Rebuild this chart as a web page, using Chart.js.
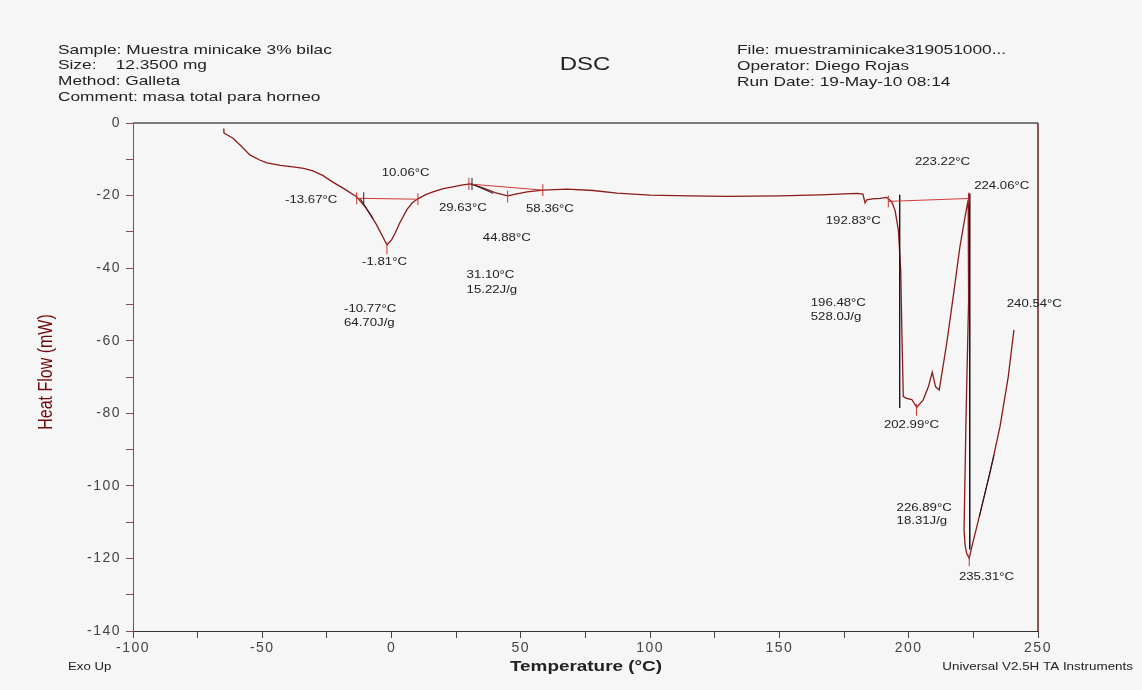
<!DOCTYPE html>
<html>
<head>
<meta charset="utf-8">
<title>DSC</title>
<script src="https://cdn.jsdelivr.net/npm/chart.js@4.4.1/dist/chart.umd.min.js"></script>
<style>
    body { margin: 0; background: #f6f6f6; }
    canvas { display: block; }
</style>
</head>
<body>
<canvas id="dscChart" width="1142" height="690"></canvas>
<script>
// DSC trace (temperature in °C, heat flow in mW)
const temps = [
    -64.9, -64.8, -64.0, -61.3, -58.0, -54.8, -51.0, -48.2, -43.0, -38.1,
    -34.0, -30.4, -26.5, -22.7, -18.0, -13.4, -10.0, -6.0, -3.5, -1.8,
    0.0, 1.5, 3.2, 6.0, 8.0, 10.2, 13.0, 16.0, 20.0, 23.7,
    27.0, 30.3, 33.0, 35.3, 40.0, 44.9, 48.0, 52.4, 58.5, 67.8,
    78.0, 87.2, 100.0, 115.0, 130.0, 150.0, 165.7, 180.0, 182.3, 183.1,
    183.8, 186.0, 188.9, 191.5, 193.4, 194.7, 196.0, 196.9, 197.4, 197.9,
    199.2, 201.2, 203.1, 205.6, 207.6, 209.1, 210.4, 211.8, 214.7, 217.2,
    219.8, 221.8, 223.0, 223.3, 223.2, 223.0, 222.2, 221.4, 221.8, 222.4,
    223.4, 224.4, 227.6, 231.4, 235.3, 238.5, 240.7,
];
const heatFlow = [
    -1.5, -2.8, -3.1, -4.2, -6.5, -8.8, -10.2, -11.0, -11.7, -12.1,
    -12.5, -13.2, -14.5, -16.3, -18.3, -20.4, -23.3, -27.8, -31.2, -33.6,
    -32.2, -30.2, -27.5, -23.8, -22.0, -20.9, -19.8, -19.0, -18.1, -17.6,
    -17.1, -16.8, -17.3, -17.9, -19.2, -20.1, -19.6, -19.0, -18.5, -18.2,
    -18.6, -19.3, -19.9, -20.1, -20.2, -20.1, -19.8, -19.4, -19.6, -22.0,
    -21.2, -20.9, -20.75, -20.5, -21.7, -24.0, -29.5, -40.5, -58.9, -75.4,
    -75.9, -76.2, -78.4, -76.3, -72.7, -68.7, -72.7, -73.6, -60.7, -47.9,
    -34.1, -25.8, -21.2, -19.4, -30.0, -48.8, -80.0, -112.2, -116.3, -118.6,
    -120.0, -116.8, -107.6, -96.5, -83.7, -69.9, -57.0,
];

// Integration baselines (red) and tangent lines (black)
const baselineT = [[-13.5, 10.2], [29.9, 58.5], [192.1, 223.3]];
const baselineHF = [[-20.75, -21.0], [-16.8, -18.5], [-21.6, -20.8]];
const tangentT = [[-12.2, -7.1], [31.0, 39.3], [196.5, 196.5], [223.6, 223.6], [227.3, 233.0]];
const tangentHF = [[-20.75, -26.3], [-16.8, -19.4], [-19.8, -78.5], [-19.5, -117.5], [-108.5, -91.5]];

// Small cursor marks
const markT = [-13.5, -10.77, 10.2, -1.8, 29.9, 31.1, 44.9, 58.5, 192.1, 223.3, 203.0, 223.4];
const markHF = [-20.75, -20.75, -21.0, -34.5, -16.8, -16.8, -20.3, -18.5, -21.6, -20.8, -79.0, -120.5];
const markColors = ["#cc3333", "#222222", "#cc3333", "#cc3333", "#cc3333", "#222222",
    "#cc3333", "#cc3333", "#cc3333", "#cc3333", "#cc3333", "#cc3333"];

// Peak annotations (left edge, middle of text)
const labelText = ["10.06°C", "-13.67°C", "29.63°C", "58.36°C", "44.88°C", "-1.81°C",
    "31.10°C", "15.22J/g", "-10.77°C", "64.70J/g", "223.22°C", "224.06°C", "192.83°C",
    "196.48°C", "528.0J/g", "240.54°C", "202.99°C", "226.89°C", "18.31J/g", "235.31°C"];
const labelT = [-3.8, -41.2, 18.3, 52.0, 35.3, -11.4,
    29.0, 29.0, -18.4, -18.4, 202.4, 225.3, 167.9,
    162.1, 162.1, 237.9, 190.4, 195.3, 195.3, 219.4];
const labelHF = [-13.9, -21.2, -23.3, -23.7, -31.6, -38.2,
    -41.9, -46.0, -51.2, -55.0, -10.7, -17.4, -27.0,
    -49.7, -53.5, -49.9, -83.2, -106.0, -109.8, -125.2];

// Axis tick labels
const xTickLabels = [-100, -50, 0, 50, 100, 150, 200, 250];
const yTickLabels = [0, -20, -40, -60, -80, -100, -120, -140];

// Header text
const headerLeft = ["Sample: Muestra minicake 3% bilac", "Size:    12.3500 mg", "Method: Galleta", "Comment: masa total para horneo"];
const headerRight = ["File: muestraminicake319051000...", "Operator: Diego Rojas", "Run Date: 19-May-10 08:14"];

const FONT = '"Liberation Sans", Arial, sans-serif';

// Draw horizontally stretched text (the reference screenshot is widened)
function drawText(ctx, text, x, y, size, color, align, sx, weight) {
    ctx.save();
    ctx.font = `${weight || "normal"} ${size}px ${FONT}`;
    ctx.fillStyle = color;
    ctx.textBaseline = "middle";
    ctx.textAlign = "left";
    const w = ctx.measureText(text).width * sx;
    let left = x;
    if (align === "center") left = x - w / 2;
    if (align === "right") left = x - w;
    ctx.translate(left, y);
    ctx.scale(sx, 1);
    ctx.fillText(text, 0, 0);
    ctx.restore();
}

const textPlugin = {
    id: "dscText",
    beforeDraw(chart) {
        chart.ctx.letterSpacing = "1.5px"; // widen tick labels
    },
    afterDraw(chart) {
        const ctx = chart.ctx;
        const { left, right, top, bottom } = chart.chartArea;
        const xs = chart.scales.x;
        const ys = chart.scales.y;
        ctx.letterSpacing = "0px";

        // top and right frame
        ctx.save();
        ctx.strokeStyle = "#7a7a7a";
        ctx.lineWidth = 2;
        ctx.beginPath();
        ctx.moveTo(left, top);
        ctx.lineTo(right, top);
        ctx.stroke();
        ctx.strokeStyle = "#6a2020";
        ctx.lineWidth = 1.5;
        ctx.beginPath();
        ctx.moveTo(right, top);
        ctx.lineTo(right, bottom);
        ctx.stroke();
        ctx.restore();

        // peak annotations
        labelText.forEach((t, i) => {
            drawText(ctx, t, xs.getPixelForValue(labelT[i]), ys.getPixelForValue(labelHF[i]), 11, "#222", "left", 1.2);
        });

        // header
        headerLeft.forEach((t, i) => drawText(ctx, t, 58, 50 + i * 15.8, 13, "#222", "left", 1.33));
        headerRight.forEach((t, i) => drawText(ctx, t, 737, 50.5 + i * 15.8, 13, "#222", "left", 1.33));
        drawText(ctx, "DSC", 585, 65, 18, "#222", "center", 1.33);

        // axis titles and footer
        drawText(ctx, "Temperature (°C)", 586, 667, 15, "#222", "center", 1.26, "bold");
        drawText(ctx, "Exo Up", 68, 667, 11, "#222", "left", 1.2);
        drawText(ctx, "Universal V2.5H TA Instruments", 1133, 667, 11, "#222", "right", 1.22);

        ctx.save();
        ctx.translate(46, 372);
        ctx.rotate(-Math.PI / 2);
        ctx.scale(1, 1.3);
        ctx.font = `16px ${FONT}`;
        ctx.fillStyle = "#700a0a";
        ctx.textAlign = "center";
        ctx.textBaseline = "middle";
        ctx.fillText("Heat Flow (mW)", 0, 0);
        ctx.restore();
    },
};

function segmentDatasets(tArr, hfArr, color) {
    return tArr.map((pair, i) => ({
        data: pair.map((t, j) => ({ x: t, y: hfArr[i][j] })),
        showLine: true,
        borderColor: color,
        borderWidth: 1,
        pointRadius: 0,
        order: 1,
    }));
}

function renderDscChart() {
    const ctx = document.getElementById("dscChart").getContext("2d");

    const datasets = [
        {
            data: temps.map((t, i) => ({ x: t, y: heatFlow[i] })),
            showLine: true,
            borderColor: "#8b1a1a",
            borderWidth: 1.3,
            pointRadius: 0,
            order: 2,
        },
        ...segmentDatasets(baselineT, baselineHF, "#d03a3a"),
        ...segmentDatasets(tangentT, tangentHF, "#1a1a1a"),
        {
            data: markT.map((t, i) => ({ x: t, y: markHF[i] })),
            showLine: false,
            pointStyle: "line",
            rotation: 90,
            pointRadius: 6,
            pointBorderWidth: 1,
            pointBorderColor: markColors,
            order: 0,
        },
    ];

    new Chart(ctx, {
        type: "scatter",
        data: { datasets },
        options: {
            responsive: false,
            animation: false,
            layout: { padding: { top: 123, right: 104, left: 0, bottom: 0 } },
            plugins: {
                legend: { display: false },
                tooltip: { enabled: false },
            },
            scales: {
                x: {
                    type: "linear",
                    min: -100,
                    max: 250,
                    afterFit: (scale) => { scale.height = 59; },
                    ticks: {
                        stepSize: 25,
                        autoSkip: false,
                        maxRotation: 0,
                        padding: 2,
                        color: "#444",
                        font: { family: FONT, size: 14 },
                        callback: (v) => (xTickLabels.includes(v) ? String(v) : ""),
                    },
                    grid: { drawOnChartArea: false, drawTicks: true, tickLength: 7, tickColor: "#444" },
                    border: { color: "#333", width: 1 },
                },
                y: {
                    type: "linear",
                    min: -140,
                    max: 0,
                    afterFit: (scale) => { scale.width = 133; },
                    ticks: {
                        stepSize: 10,
                        autoSkip: false,
                        padding: 5,
                        color: "#444",
                        font: { family: FONT, size: 14 },
                        callback: (v) => (yTickLabels.includes(v) ? String(v) : ""),
                    },
                    grid: { drawOnChartArea: false, drawTicks: true, tickLength: 7, tickColor: "#8b4a4a" },
                    border: { color: "#8b4a4a", width: 1 },
                },
            },
        },
        plugins: [textPlugin],
    });
}

document.addEventListener("DOMContentLoaded", renderDscChart);
</script>
</body>
</html>
